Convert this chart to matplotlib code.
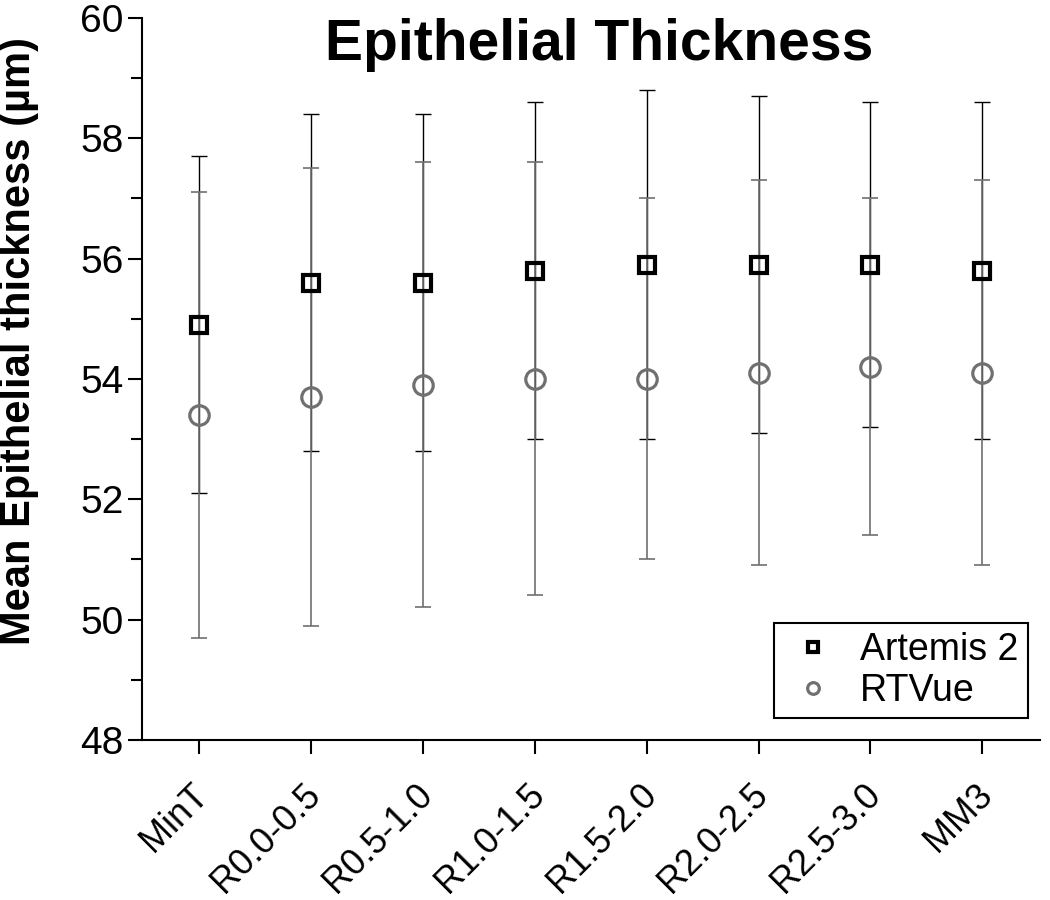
import matplotlib

matplotlib.use("Agg")
import matplotlib.pyplot as plt
import matplotlib.transforms as mtransforms
import numpy as np
from matplotlib.ticker import MultipleLocator

categories = ["MinT", "R0.0-0.5", "R0.5-1.0", "R1.0-1.5", "R1.5-2.0", "R2.0-2.5", "R2.5-3.0", "MM3"]

artemis_mean = [54.9, 55.6, 55.6, 55.8, 55.9, 55.9, 55.9, 55.8]
artemis_upper = [57.7, 58.4, 58.4, 58.6, 58.8, 58.7, 58.6, 58.6]
artemis_lower = [52.1, 52.8, 52.8, 53.0, 53.0, 53.1, 53.2, 53.0]

rtvue_mean = [53.4, 53.7, 53.9, 54.0, 54.0, 54.1, 54.2, 54.1]
rtvue_upper = [57.1, 57.5, 57.6, 57.6, 57.0, 57.3, 57.0, 57.3]
rtvue_lower = [49.7, 49.9, 50.2, 50.4, 51.0, 50.9, 51.4, 50.9]

GRAY = "#707070"

plt.rcParams.update(
    {
        "font.family": ["Liberation Sans", "DejaVu Sans"],
        "font.size": 28,
        "axes.spines.top": False,
        "axes.spines.right": False,
        "savefig.facecolor": "white",
    }
)


def err(mean, lower, upper):
    mean = np.asarray(mean)
    return np.vstack([mean - np.asarray(lower), np.asarray(upper) - mean])


fig = plt.figure(figsize=(10.5, 9), dpi=100)
ax = fig.add_axes([0.135, 0.178, 0.855, 0.802])
x = np.arange(len(categories))

ax.errorbar(x, artemis_mean, yerr=err(artemis_mean, artemis_lower, artemis_upper), fmt="none",
            ecolor="black", elinewidth=1.0, capsize=6, capthick=1.0, zorder=2)
ax.errorbar(x, rtvue_mean, yerr=err(rtvue_mean, rtvue_lower, rtvue_upper), fmt="none",
            ecolor=GRAY, elinewidth=1.2, capsize=6, capthick=1.2, zorder=3)
ax.plot(x, artemis_mean, linestyle="none", marker="s", markersize=11, markerfacecolor="none",
        markeredgecolor="black", markeredgewidth=3.0, label="Artemis 2", zorder=4)
ax.plot(x, rtvue_mean, linestyle="none", marker="o", markersize=14, markerfacecolor="none",
        markeredgecolor=GRAY, markeredgewidth=2.3, label="RTVue", zorder=4)

ax.set_xlim(-0.51, 7.51)
ax.set_ylim(48, 60)
ax.yaxis.set_major_locator(MultipleLocator(2))
ax.yaxis.set_minor_locator(MultipleLocator(1))
ax.set_xticks(x, categories, rotation=45, ha="right", rotation_mode="anchor")
for spine in ("left", "bottom"):
    ax.spines[spine].set_linewidth(1.5)
ax.tick_params(axis="both", which="major", direction="out", length=10, width=1.5, labelsize=28, pad=3)
ax.tick_params(axis="y", which="minor", direction="out", length=8, width=1.5)
ax.tick_params(axis="x", labelsize=26, pad=8)

# nudge rotated category labels down-left, as in the original
shift = mtransforms.ScaledTranslation(-8 / 100, -12 / 100, fig.dpi_scale_trans)
for label in ax.get_xticklabels():
    label.set_transform(label.get_transform() + shift)

ax.set_ylabel("Mean Epithelial thickness (µm)", fontsize=30, fontweight="bold")
ax.yaxis.set_label_coords(-0.115, 0.553)
ax.text(0.51, 1.0, "Epithelial Thickness", transform=ax.transAxes, ha="center", va="top",
        fontsize=41, fontweight="bold")

leg = ax.legend(loc="lower right", bbox_to_anchor=(0.987, 0.03), markerscale=0.6, fontsize=27,
                fancybox=False, framealpha=1, edgecolor="black", handletextpad=0.45,
                borderpad=0.25, labelspacing=0.12, handlelength=1.6, borderaxespad=0)
leg.get_frame().set_linewidth(1.5)

fig.savefig("out.png", dpi=100)
